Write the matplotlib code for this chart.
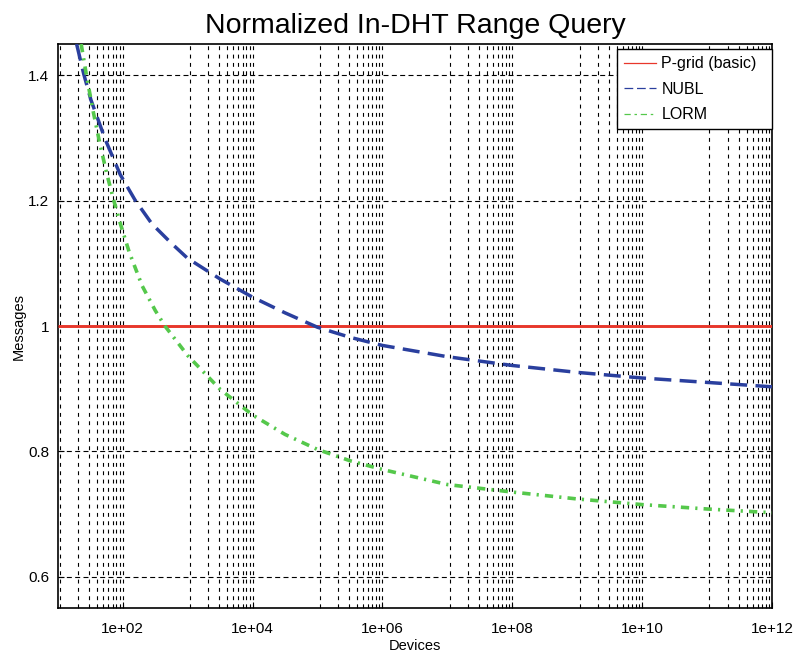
import numpy as np
import matplotlib
matplotlib.use("Agg")
import matplotlib.pyplot as plt
from matplotlib.lines import Line2D
from matplotlib.ticker import FixedLocator, FuncFormatter

plt.rcParams['font.family'] = ['Liberation Sans', 'DejaVu Sans']

# ---- data (log10 of device count, normalized messages) ----
title = "Normalized In-DHT Range Query"
xlabel = "Devices"
ylabel = "Messages"
series_names = ["P-grid (basic)", "NUBL", "LORM"]

pgrid_exp = [1.0, 12.0]
pgrid_val = [1.0, 1.0]

nubl_exp = [1.29, 1.40, 1.51, 1.73, 1.96, 2.19, 2.45, 2.75, 3.0, 3.5, 4.0, 4.5,
            5.0, 5.5, 6.0, 7.0, 8.0, 9.0, 10.0, 11.0, 12.0]
nubl_val = [1.45, 1.402, 1.361, 1.298, 1.242, 1.201, 1.163, 1.132, 1.108, 1.075, 1.046, 1.021,
            0.998, 0.982, 0.969, 0.951, 0.937, 0.926, 0.917, 0.910, 0.903]

lorm_exp = [1.36, 1.45, 1.55, 1.65, 1.75, 1.85, 1.95, 2.1, 2.3, 2.5, 2.65, 3.0, 3.5,
            4.0, 4.5, 5.0, 5.5, 6.0, 7.0, 8.0, 9.0, 10.0, 11.0, 12.0]
lorm_val = [1.45, 1.395, 1.34, 1.29, 1.245, 1.205, 1.168, 1.118, 1.064, 1.025, 1.0, 0.953, 0.899,
            0.858, 0.827, 0.803, 0.785, 0.771, 0.747, 0.735, 0.724, 0.715, 0.708, 0.702]

major_exps = [2, 4, 6, 8, 10, 12]
yticks = [0.6, 0.8, 1.0, 1.2, 1.4]
ytick_labels = ["0.6", "0.8", "1", "1.2", "1.4"]

red = "#e8372b"
blue = "#2a3f9e"
green = "#55c84b"

fig = plt.figure(figsize=(7.97, 6.57), dpi=100)
ax = fig.add_axes([0.0725, 0.0746, 0.8961, 0.8584])

dev = lambda e: np.power(10.0, np.asarray(e, dtype=float))

ax.plot(dev(pgrid_exp), pgrid_val, color=red, lw=2.1, solid_capstyle='butt', zorder=3)
ax.plot(dev(nubl_exp), nubl_val, color=blue, lw=2.5, dashes=(4.9, 2.4), zorder=4)
ax.plot(dev(lorm_exp), lorm_val, color=green, lw=2.6, dashes=(2.3, 1.7, 0.6, 1.7), zorder=4)

ax.set_xscale('log')
ax.set_xlim(10, 1e12)
ax.set_ylim(0.55, 1.45)

majors = [10.0 ** e for e in major_exps]
minors = []
for e in [0] + major_exps[:-1]:
    lo, hi = 10.0 ** e, 10.0 ** (e + 2)
    for k in range(1, 10):
        v = lo + k * (hi - lo) / 10
        if 10 <= v <= 1e12:
            minors.append(v)
ax.xaxis.set_major_locator(FixedLocator(majors))
ax.xaxis.set_minor_locator(FixedLocator(minors))
ax.xaxis.set_major_formatter(FuncFormatter(lambda x, p: f"{x:.0e}"))
ax.xaxis.set_minor_formatter(FuncFormatter(lambda x, p: ""))
ax.set_yticks(yticks)
ax.set_yticklabels(ytick_labels)

ax.grid(True, which='both', axis='x', color='black', linestyle=(0, (3.5, 4)), lw=0.8)
ax.grid(True, which='major', axis='y', color='black', linestyle=(0, (4.5, 3)), lw=0.8)
ax.set_axisbelow(True)

ax.tick_params(axis='both', which='both', direction='in', labelsize=11, color='black')
ax.tick_params(axis='y', which='major', length=4, pad=6)
ax.tick_params(axis='x', which='minor', length=3)
ax.tick_params(axis='x', which='major', length=4, pad=10)
for s in ax.spines.values():
    s.set_linewidth(1.2)
    s.set_color('black')

ax.set_title(title, fontsize=20.5, pad=8)
ax.set_xlabel(xlabel, fontsize=10.5, labelpad=2)
ax.set_ylabel(ylabel, fontsize=10.5, labelpad=2)

handles = [Line2D([], [], color=red, lw=0.9),
           Line2D([], [], color=blue, lw=0.9, dashes=(7, 3)),
           Line2D([], [], color=green, lw=0.9, dashes=(5, 3, 2, 3))]
leg = ax.legend(handles, series_names, loc='upper left',
                bbox_to_anchor=(0.7826, 0.9911, 0.217, 0), mode='expand',
                fontsize=11.5, fancybox=False, framealpha=1, edgecolor='black',
                handlelength=2.0, labelspacing=0.66, borderpad=0.45, handletextpad=0.35,
                borderaxespad=0.0)
leg.get_frame().set_linewidth(1.0)

fig.savefig("out.png", dpi=100)
